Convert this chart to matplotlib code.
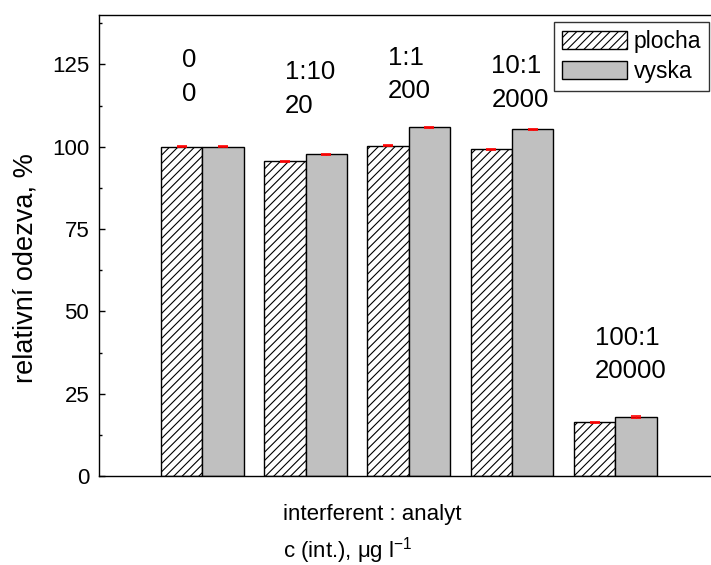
import numpy as np
import matplotlib
matplotlib.use("Agg")
import matplotlib.pyplot as plt
from matplotlib.ticker import MultipleLocator

plt.rcParams["font.family"] = ["Liberation Sans", "DejaVu Sans"]
plt.rcParams["mathtext.fontset"] = "custom"
plt.rcParams["mathtext.rm"] = "Liberation Sans"
plt.rcParams["mathtext.it"] = "Liberation Sans:italic"
plt.rcParams["hatch.linewidth"] = 0.8

# data
ratio_labels = ["0", "1:10", "1:1", "10:1", "100:1"]
conc_labels = ["0", "20", "200", "2000", "20000"]
plocha = [100.0, 95.6, 100.3, 99.2, 16.3]
vyska = [100.0, 97.7, 105.9, 105.3, 17.9]
plocha_err = [0.2, 0.2, 0.2, 0.2, 0.2]
vyska_err = [0.2, 0.2, 0.2, 0.2, 0.2]
# label heights (annotation placement, y in data units)
label_y = [121.2, 117.5, 121.9, 119.4, 36.9]

x = np.arange(1, len(plocha) + 1)
w = 0.4

W, H = 711, 565
fig = plt.figure(figsize=(W / 100, H / 100), dpi=100)
ax = fig.add_axes([99 / W, 1 - 476 / H, 619.5 / W, 461 / H])

ax.bar(x - w/2, plocha, w, color="white", edgecolor="black", linewidth=1.0,
       hatch="////", label="plocha")
ax.bar(x + w/2, vyska, w, color="#c0c0c0", edgecolor="black", linewidth=1.0,
       label="vyska")
ax.errorbar(x - w/2, plocha, yerr=plocha_err, fmt="none", ecolor="red",
            elinewidth=1.0, capsize=3.5, capthick=1.2)
ax.errorbar(x + w/2, vyska, yerr=vyska_err, fmt="none", ecolor="red",
            elinewidth=1.0, capsize=3.5, capthick=1.2)

for xi, r, c, yl in zip(x, ratio_labels, conc_labels, label_y):
    ax.text(xi - w/2, yl, r + "\n" + c, ha="left", va="center",
            fontsize=18.5, linespacing=1.5)

ax.set_xlim(0, 6)
ax.set_ylim(0, 140)
ax.set_xticks([])
ax.yaxis.set_major_locator(MultipleLocator(25))
ax.yaxis.set_minor_locator(MultipleLocator(12.5))
ax.tick_params(axis="y", which="major", direction="in", length=4, width=1,
               labelsize=16, pad=7)
ax.tick_params(axis="y", which="minor", direction="in", length=2.5, width=1)
for s in ax.spines.values():
    s.set_linewidth(1.0)

fig.text(26 / W, 1 - 268 / H, "relativní odezva, %", rotation=90,
         ha="center", va="center", fontsize=19.5)
fig.text(283 / W, 1 - 520 / H, "interferent : analyt", ha="left",
         va="baseline", fontsize=16)
fig.text(283 / W, 1 - 558 / H, r"c (int.), μg l$^{-1}$", ha="left",
         va="baseline", fontsize=16)

leg = ax.legend(loc="upper right", bbox_to_anchor=(709 / W, 1 - 22 / H),
                bbox_transform=fig.transFigure, fontsize=16.5, frameon=True,
                fancybox=False, edgecolor="black", handlelength=2.8,
                handleheight=0.85, handletextpad=0.3, borderpad=0.35,
                labelspacing=0.3, borderaxespad=0)
leg.get_frame().set_linewidth(1.0)

fig.savefig("out.png", dpi=100)
